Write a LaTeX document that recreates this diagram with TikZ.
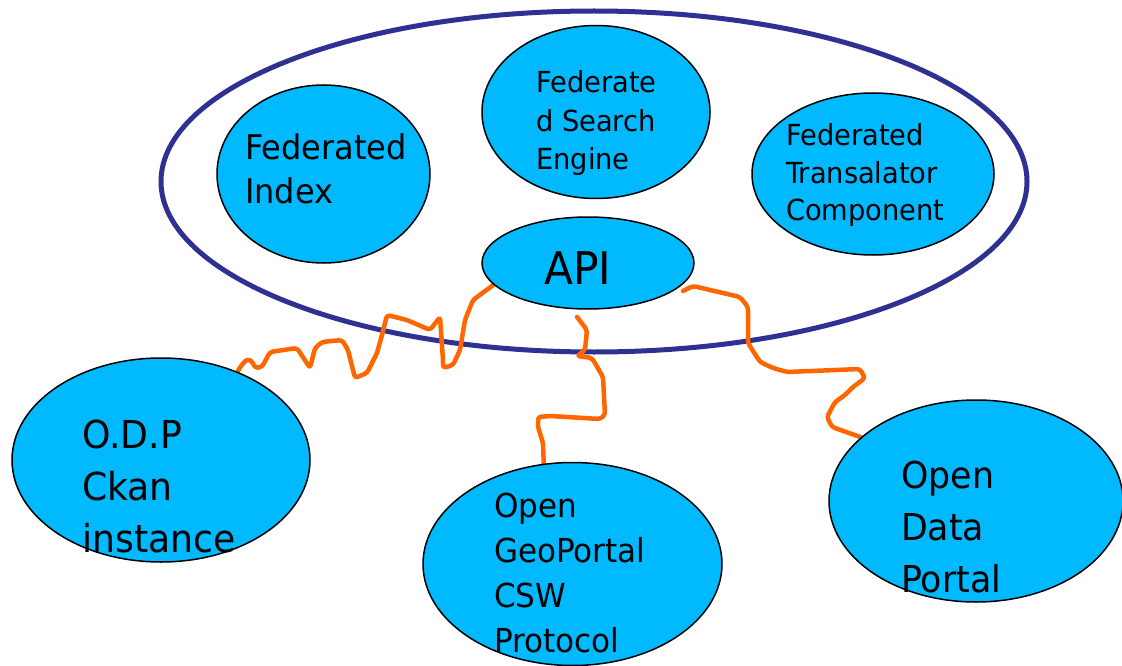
\documentclass[tikz,border=0pt]{standalone}
\usepackage{fontspec}
\usepackage{graphicx}
\setmainfont{DejaVu Sans}
\usetikzlibrary{shapes.geometric}
\definecolor{bubblue}{RGB}{0,185,255}
\definecolor{wireorange}{RGB}{255,102,0}
\definecolor{ringnavy}{RGB}{46,49,146}
\newcommand{\lbltext}[3]{\fontsize{#1}{#2}\selectfont\scalebox{0.94}[1]{\begin{tabular}[t]{@{}l@{}}#3\end{tabular}}}
\pgfdeclarelayer{back}
\pgfdeclarelayer{mid}
\pgfsetlayers{back,mid,main}
\tikzset{
  bub/.style={ellipse, draw=black, line width=1.5pt, fill=bubblue, inner sep=0pt},
  ring/.style={ellipse, draw=ringnavy, line width=5pt, inner sep=0pt},
  txt/.style={anchor=base west, inner sep=0pt, text=black},
  wire/.style={draw=wireorange, line width=4.5pt, rounded corners=3pt, line join=round, line cap=round}
}
\begin{document}
\begin{tikzpicture}[x=1pt,y=-1pt]
\useasboundingbox (0,0) rectangle (1122,666);
\begin{pgfonlayer}{back}
\fill[white] (0,0) rectangle (1122,666);
\node[ring, minimum width=866pt, minimum height=341pt] (sys) at (594,181.5) {};
\end{pgfonlayer}
% bubbles
\node[bub, minimum width=213pt, minimum height=178pt] (idx) at (323.5,174) {};
\node[bub, minimum width=228pt, minimum height=173pt] (fse) at (596,112) {};
\node[bub, minimum width=242pt, minimum height=162pt] (ftc) at (873,174) {};
\node[bub, minimum width=212pt, minimum height=92pt] (api) at (588,263) {};
\node[bub, minimum width=298pt, minimum height=204pt] (odp) at (161,460) {};
\node[bub, minimum width=299pt, minimum height=203pt] (geo) at (572.5,564) {};
\node[bub, minimum width=294pt, minimum height=202pt] (odata) at (976,501) {};
% texts
\node[txt] (tidx) at (245,160) {\lbltext{34}{44}{Federated\\Index}};
\node[txt] (tfse) at (536,93) {\lbltext{29}{38.5}{Federate\\d Search\\Engine}};
\node[txt] (tftc) at (786,146) {\lbltext{29}{37.5}{Federated\\Transalator\\Component}};
\node[txt] (tapi) at (544,284) {\lbltext{45}{50}{API}};
\node[txt] (todp) at (82,448) {\lbltext{38.5}{52}{O.D.P\\Ckan\\instance}};
\node[txt] (tgeo) at (494,517) {\lbltext{33}{45}{Open\\GeoPortal\\CSW\\Protocol}};
\node[txt] (todata) at (901,488) {\lbltext{37}{52}{Open\\Data\\Portal}};
% free ends
\coordinate (m0) at (577,317);
\coordinate (r0) at (683,291);
\begin{pgfonlayer}{mid}
\draw[wire] (api.193) -- (473,300) -- (465,320) -- (460,350) -- (453,365) -- (443,368)
  -- (443,360) -- (440,317) -- (430,330) -- (407,320) -- (387,315) -- (382,335)
  -- (377,353) -- (367,373) -- (355,378) -- (348,350) -- (342,340) -- (322,342)
  -- (315,348) -- (310,368) -- (297,348) -- (270,352) -- (262,367) -- (255,368)
  -- (252,361) -- (247,359) -- (240,367) -- (odp.49);
\draw[wire] (m0) -- (587,330) -- (585,350) -- (577,356) -- (592,358) -- (603,377)
  -- (605,415) -- (600,419) -- (550,416) -- (538,417) -- (538,427) -- (543,443)
  -- (geo.106);
\draw[wire] (r0) -- (693,286) -- (740,297) -- (748,307) -- (748,343) -- (760,362)
  -- (773,368) -- (787,372) -- (860,369) -- (865,378) -- (853,387) -- (845,395)
  -- (835,402) -- (827,417) -- (832,427) -- (odata.151);
\end{pgfonlayer}
\end{tikzpicture}
\end{document}
